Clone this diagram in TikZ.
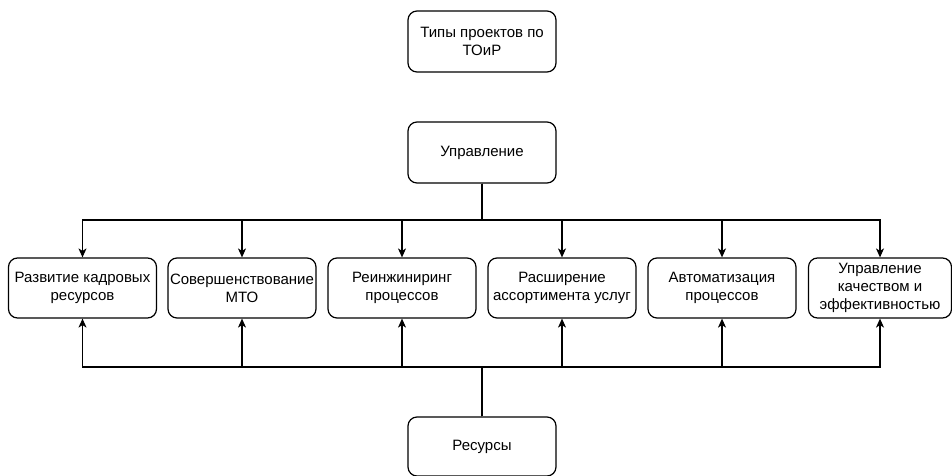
\documentclass[tikz,border=0pt]{standalone}
\usepackage{fontspec}
\setmainfont{Liberation Sans}
\usetikzlibrary{arrows.meta}
\begin{document}
\begin{tikzpicture}[x=1pt, y=-1pt,
  box/.style={draw, line width=1.2pt, rounded corners=9pt, align=center,
    minimum width=148pt, minimum height=60pt, inner sep=1pt,
    font=\fontsize{15}{18}\selectfont},
  link/.style={line width=1.2pt},
  arr/.style={link, -{Stealth[length=9pt, width=8pt, inset=2.5pt]}}]
\useasboundingbox (0,0) rectangle (952,476);

% header and the two hubs
\node[box, minimum height=61pt] (types) at (482,41.5) {Типы проектов по\\ТОиР};
\node[box, minimum height=61pt] (mgmt) at (482,152.5) {Управление};
\node[box, minimum height=59pt] (res) at (482,446.5) {Ресурсы};

% row of project types
\node[box] (p1) at (82.5,288) {Развитие кадровых\\ресурсов};
\node[box] (p2) at (242,288) {Совершенствование\\МТО};
\node[box] (p3) at (402,288) {Реинжиниринг\\процессов};
\node[box] (p4) at (562,288) {Расширение\\ассортимента услуг};
\node[box] (p5) at (722,288) {Автоматизация\\процессов};
\node[box, minimum width=143pt] (p6) at (880,288) {Управление\\качеством и\\эффективностью};

% bus lines
\coordinate (topbus) at (482,220);
\coordinate (botbus) at (482,367);

\foreach \p in {p1,p2,p3,p4,p5,p6} {
  \draw[arr] (mgmt.south) -- (topbus) -| (\p.north);
  \draw[arr] (res.north) -- (botbus) -| (\p.south);
}
\end{tikzpicture}
\end{document}
